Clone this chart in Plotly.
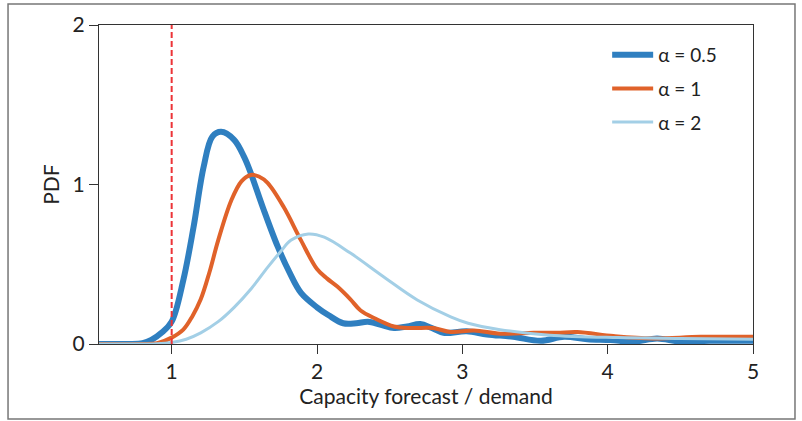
import plotly.graph_objects as go

# Data
x_a05 = [0.5, 0.7, 0.8, 0.86, 0.93, 1.0, 1.08, 1.15, 1.22, 1.28, 1.34, 1.43, 1.5, 1.545, 1.63, 1.73,
         1.81, 1.89, 2.0, 2.08, 2.18, 2.27, 2.35, 2.44, 2.53, 2.62, 2.71, 2.79, 2.87, 3.03, 3.17,
         3.35, 3.54, 3.70, 3.86, 4.02, 4.18, 4.34, 4.5, 4.7, 4.86, 5.0]
y_a05 = [0, 0, 0.005, 0.025, 0.07, 0.14, 0.40, 0.73, 1.11, 1.30, 1.33, 1.28, 1.17, 1.07, 0.85, 0.61,
         0.45, 0.32, 0.23, 0.18, 0.13, 0.13, 0.14, 0.12, 0.10, 0.11, 0.125, 0.10, 0.07, 0.08, 0.06,
         0.045, 0.02, 0.045, 0.03, 0.025, 0.015, 0.035, 0.015, 0.02, 0.02, 0.02]

x_a1 = [0.5, 0.8, 0.9, 1.0, 1.08, 1.14, 1.20, 1.26, 1.32, 1.41, 1.48, 1.545, 1.60, 1.66, 1.77, 1.89,
        2.0, 2.07, 2.14, 2.23, 2.3, 2.4, 2.53, 2.65, 2.80, 2.92, 3.08, 3.26, 3.49, 3.65, 3.79, 4.04,
        4.31, 4.64, 5.0]
y_a1 = [0, 0, 0.005, 0.04, 0.09, 0.17, 0.28, 0.45, 0.65, 0.90, 1.02, 1.06, 1.05, 1.01, 0.86, 0.65,
        0.47, 0.41, 0.36, 0.28, 0.21, 0.16, 0.11, 0.10, 0.10, 0.075, 0.085, 0.065, 0.07, 0.07, 0.075, 0.05,
        0.035, 0.045, 0.045]

x_a2 = [0.5, 0.9, 1.0, 1.1, 1.2, 1.32, 1.43, 1.55, 1.66, 1.75, 1.82, 1.94, 2.05, 2.23, 2.46, 2.69,
        2.92, 3.04, 3.26, 3.6, 4.07, 4.5, 5.0]
y_a2 = [0, 0.002, 0.01, 0.03, 0.07, 0.14, 0.23, 0.35, 0.48, 0.58, 0.65, 0.69, 0.67, 0.57, 0.42, 0.276,
        0.17, 0.13, 0.09, 0.055, 0.04, 0.035, 0.03]

threshold = 1.0
labels = ["α = 0.5", "α = 1", "α = 2"]
colors = ["#2f7fc0", "#e0622a", "#a3cfe6"]
widths = [6, 4, 3]

x_ticks = [1, 2, 3, 4, 5]
y_ticks = [0, 1, 2]

FONT = "Lato, Carlito, 'Open Sans', sans-serif"

fig = go.Figure()
series = [(x_a05, y_a05), (x_a1, y_a1), (x_a2, y_a2)]
for i, (xs, ys) in enumerate(series):
    fig.add_trace(go.Scatter(
        x=xs, y=ys, mode="lines", name=labels[i], legendgroup=f"g{i}",
        line=dict(color=colors[i], width=widths[i], shape="spline", smoothing=1.0),
    ))

# red dashed threshold line
fig.add_trace(go.Scatter(
    x=[threshold, threshold], y=[0, 2], mode="lines", showlegend=False,
    line=dict(color="#ec3438", width=2, dash="6px,3px"),
))

fig.update_layout(
    width=802, height=421,
    margin=dict(l=99, r=49, t=25, b=77),
    paper_bgcolor="white", plot_bgcolor="white",
    font=dict(family=FONT, size=21, color="#222"),
    showlegend=True,
    legend=dict(x=0.777, y=0.966, xanchor="left", yanchor="top",
                bgcolor="rgba(0,0,0,0)", font=dict(size=19, family=FONT, color="#222"),
                tracegroupgap=6, itemwidth=41, traceorder="grouped"),
    xaxis=dict(range=[0.5, 5], tickvals=x_ticks, ticktext=[str(v) for v in x_ticks],
               showgrid=False, zeroline=False, showline=True, linecolor="#333", linewidth=1.3,
               mirror=True, ticks="outside", ticklen=9, tickcolor="#333", tickwidth=1.3,
               title=dict(text="Capacity forecast / demand", standoff=6, font=dict(size=21))),
    yaxis=dict(range=[0, 2], tickvals=y_ticks, ticktext=[str(v) for v in y_ticks],
               showgrid=False, zeroline=False, showline=True, linecolor="#333", linewidth=1.3,
               mirror=True, ticks="outside", ticklen=9, tickcolor="#333", tickwidth=1.3,
               title=dict(text="PDF", standoff=7, font=dict(size=21))),
    shapes=[dict(type="rect", xref="paper", yref="paper",
                 x0=-0.1391, x1=1.0642, y0=-0.2351, y1=1.0658,
                 line=dict(color="#777", width=1.5), fillcolor="rgba(0,0,0,0)", layer="below")],
)

fig.write_html("out.html", config={"displayModeBar": False},
               post_script="document.body.style.margin='0px';")
